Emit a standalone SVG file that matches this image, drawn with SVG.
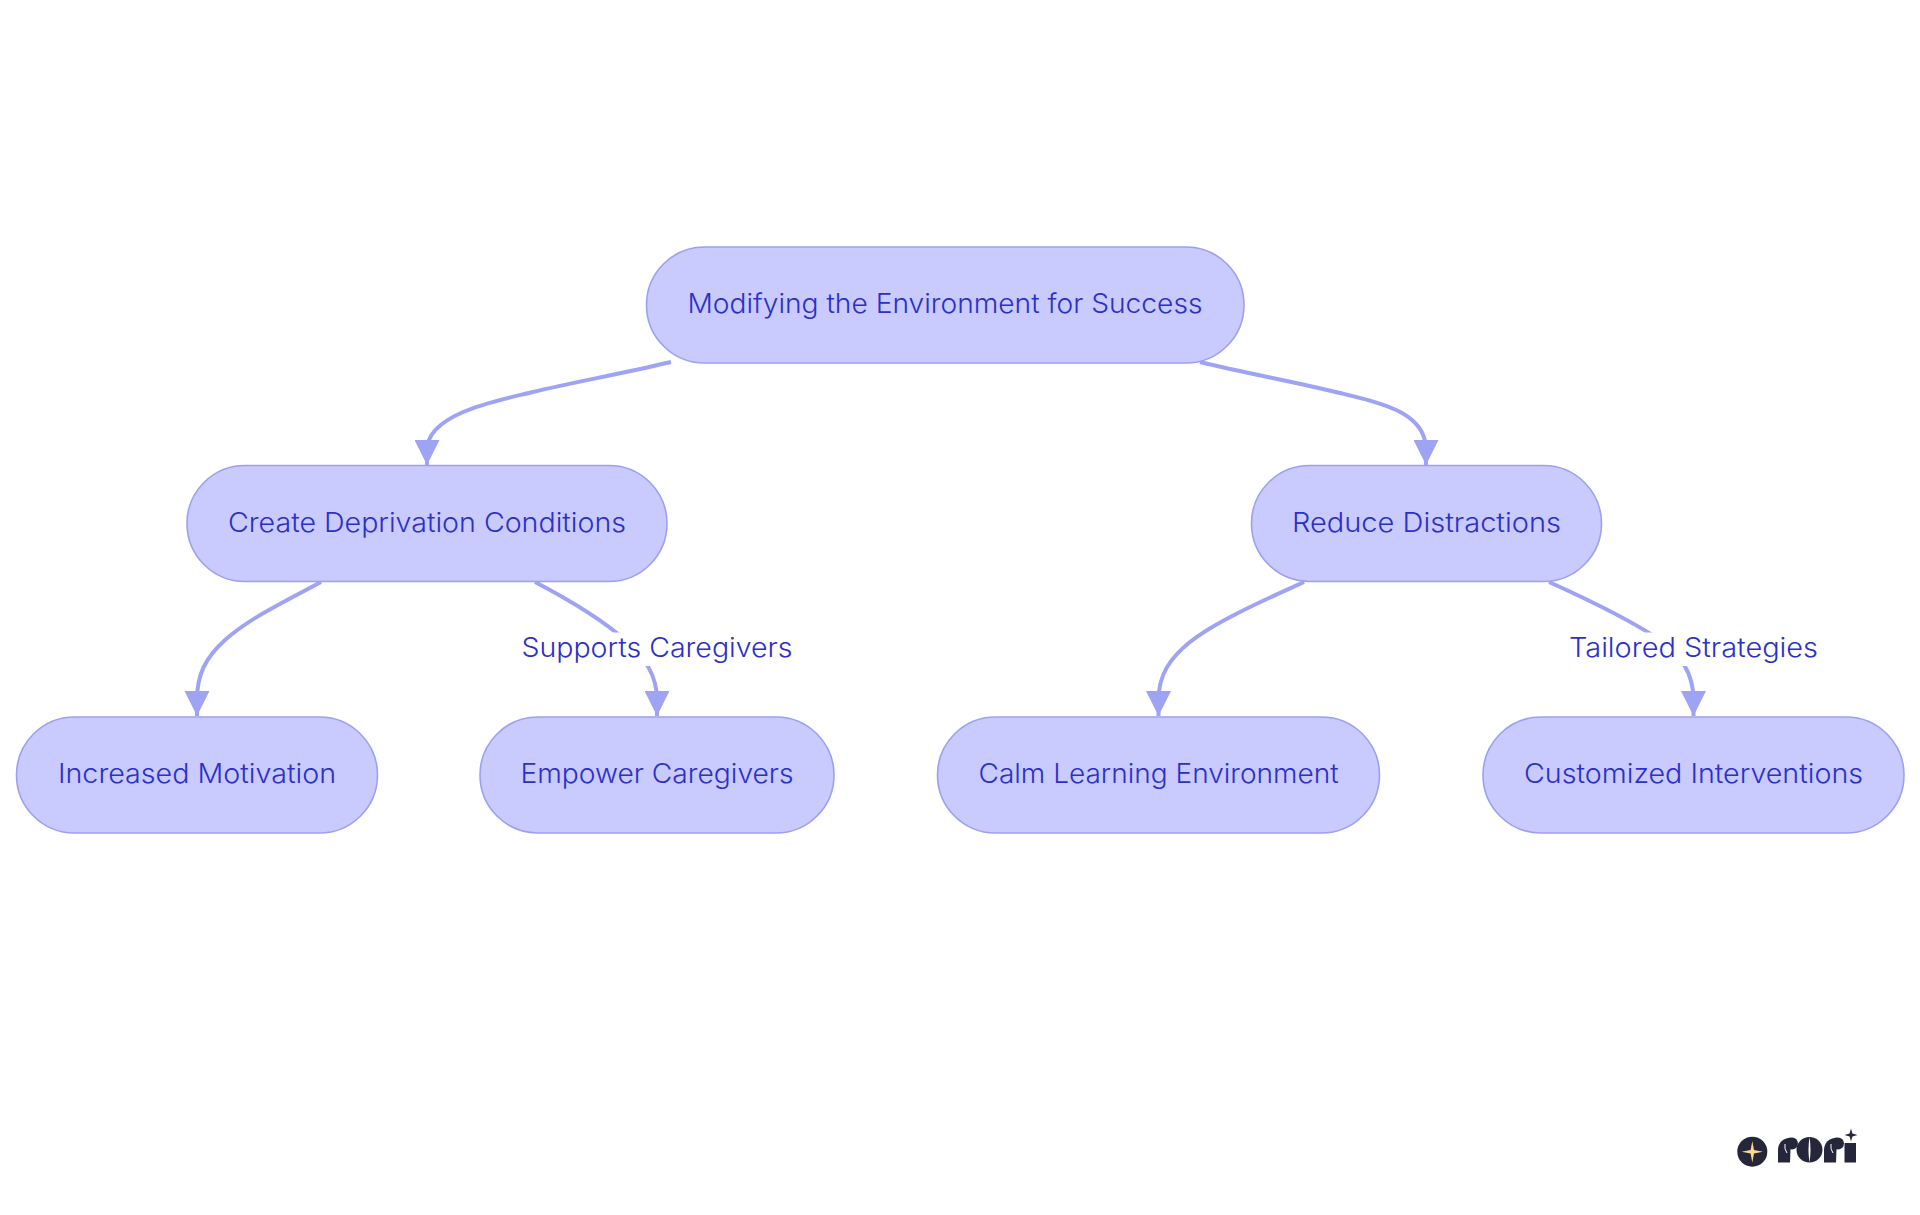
<svg xmlns="http://www.w3.org/2000/svg" width="1920" height="1215" viewBox="0 0 1920 1215">
<style>
.n{fill:#c9cafd;stroke:#9ca0f3;stroke-width:1.6}
.t{font-family:"Inter","Noto Sans","Liberation Sans",sans-serif;font-size:27px;font-weight:300;fill:#2b30cb;text-anchor:middle}
.e{fill:none;stroke:#9fa3f4;stroke-width:4}
.lb{fill:#fff}
.logo{fill:#26263a}
.cut{fill:none;stroke:#fff;stroke-width:1}
</style>
<defs>
<marker id="arrow" markerUnits="userSpaceOnUse" markerWidth="26" markerHeight="25" refX="25" refY="12.5" orient="auto"><path d="M0,0L25,12.5L0,25Z" fill="#9fa3f4"/></marker>
</defs>
<rect width="1920" height="1215" fill="#fff"/>
<g id="connectors">
<path class="e" marker-end="url(#arrow)" d="M671,362 C620,374 570,383 533,392 C500,400 427,413 427,450 L427,465"/>
<path class="e" marker-end="url(#arrow)" d="M1200,362 C1245,373 1300,383 1340,393 C1385,404 1426,413 1426,450 L1426,465"/>
<path class="e" marker-end="url(#arrow)" d="M321,582 C280,604 250,618 225,640 C205,658 197,675 197,700 L197,716"/>
<path class="e" marker-end="url(#arrow)" d="M535,582 C575,603 605,622 625,640 C645,658 657,675 657,700 L657,716"/>
<path class="e" marker-end="url(#arrow)" d="M1304,582 C1260,602 1215,622 1190,642 C1170,658 1158.5,675 1158.5,700 L1158.5,716"/>
<path class="e" marker-end="url(#arrow)" d="M1549,582 C1600,605 1635,623 1660,640 C1680,655 1693.5,672 1693.5,700 L1693.5,716"/>
</g>
<g id="edge-label-1"><rect class="lb" x="521" y="632.5" width="273" height="33.5"/><text class="t" x="657" y="656.5" textLength="271" lengthAdjust="spacingAndGlyphs">Supports Caregivers</text></g>
<g id="edge-label-2"><rect class="lb" x="1569" y="632.5" width="250" height="33.5"/><text class="t" x="1693.5" y="656.5" textLength="249" lengthAdjust="spacingAndGlyphs">Tailored Strategies</text></g>
<g id="node-root"><rect class="n" x="646.5" y="247" width="597.5" height="116" rx="58"/><text class="t" x="945" y="313" textLength="515" lengthAdjust="spacingAndGlyphs">Modifying the Environment for Success</text></g>
<g id="node-create"><rect class="n" x="187" y="465.5" width="480" height="116" rx="58"/><text class="t" x="427" y="531.5" textLength="398" lengthAdjust="spacingAndGlyphs">Create Deprivation Conditions</text></g>
<g id="node-reduce"><rect class="n" x="1251.5" y="465.5" width="350" height="116" rx="58"/><text class="t" x="1426.5" y="531.5" textLength="269" lengthAdjust="spacingAndGlyphs">Reduce Distractions</text></g>
<g id="node-motivation"><rect class="n" x="16.5" y="717" width="361" height="116" rx="58"/><text class="t" x="197" y="783" textLength="278" lengthAdjust="spacingAndGlyphs">Increased Motivation</text></g>
<g id="node-empower"><rect class="n" x="480" y="717" width="354" height="116" rx="58"/><text class="t" x="657" y="783" textLength="273" lengthAdjust="spacingAndGlyphs">Empower Caregivers</text></g>
<g id="node-calm"><rect class="n" x="937.5" y="717" width="442" height="116" rx="58"/><text class="t" x="1158.5" y="783" textLength="360" lengthAdjust="spacingAndGlyphs">Calm Learning Environment</text></g>
<g id="node-custom"><rect class="n" x="1483" y="717" width="421" height="116" rx="58"/><text class="t" x="1693.5" y="783" textLength="339" lengthAdjust="spacingAndGlyphs">Customized Interventions</text></g>
<g id="logo">
<circle class="logo" cx="1752.3" cy="1151.7" r="15"/>
<polygon fill="#f7d98f" points="1752.3,1141 1754,1150 1763,1151.7 1754,1153.4 1752.3,1162.4 1750.6,1153.4 1741.6,1151.7 1750.6,1150"/>
<path class="logo" d="M1778,1162.5V1150C1778,1143 1783,1138 1791,1137.5L1790,1162.5Z"/>
<circle class="logo" cx="1792" cy="1143.5" r="6"/>
<path class="cut" d="M1785,1144Q1784,1149 1787,1153"/>
<ellipse class="logo" cx="1809.5" cy="1149.7" rx="13" ry="12.8"/>
<path fill="#fff" d="M1809.5,1137Q1807.5,1149.7 1809.5,1162.5Q1811.5,1149.7 1809.5,1137Z"/>
<path class="logo" d="M1824,1162.5V1150C1824,1143 1829,1138 1837,1137.5L1836,1162.5Z"/>
<circle class="logo" cx="1838" cy="1143.5" r="6"/>
<path class="cut" d="M1831,1144Q1830,1149 1833,1153"/>
<rect class="logo" x="1844.5" y="1143" width="11.5" height="19.5"/>
<polygon class="logo" points="1851,1128.5 1852.4,1133.6 1857.5,1135 1852.4,1136.4 1851,1141.5 1849.6,1136.4 1844.5,1135 1849.6,1133.6"/>
</g>
</svg>
